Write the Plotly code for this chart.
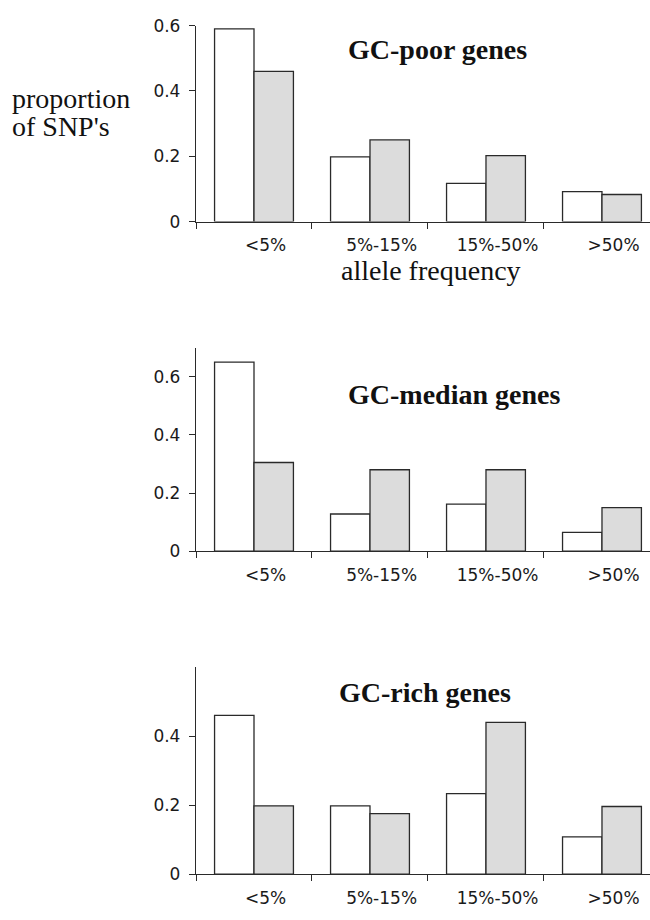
import plotly.graph_objects as go

categories = ["<5%", "5%-15%", "15%-50%", ">50%"]
panel_titles = ["GC-poor genes", "GC-median genes", "GC-rich genes"]
poor_white = [0.59, 0.198, 0.117, 0.092]
poor_grey = [0.46, 0.25, 0.202, 0.083]
median_white = [0.65, 0.128, 0.162, 0.065]
median_grey = [0.305, 0.28, 0.28, 0.15]
rich_white = [0.46, 0.198, 0.233, 0.108]
rich_grey = [0.198, 0.175, 0.44, 0.196]
y_ticks_top = [0, 0.2, 0.4, 0.6]
y_ticks_mid = [0, 0.2, 0.4, 0.6]
y_ticks_bot = [0, 0.2, 0.4]
y_tick_text_top = ["0", "0.2", "0.4", "0.6"]
y_tick_text_mid = ["0", "0.2", "0.4", "0.6"]
y_tick_text_bot = ["0", "0.2", "0.4"]

W, H = 650, 920
def px(x):
    return x / W
def py(y):
    return 1 - y / H

xpos = list(range(len(categories)))
panels = [
    (poor_white, poor_grey, [0, 0.6], y_ticks_top, y_tick_text_top, (216.3, 16.0)),
    (median_white, median_grey, [0, 0.7], y_ticks_mid, y_tick_text_mid, (553.3, 345.0)),
    (rich_white, rich_grey, [0, 0.6], y_ticks_bot, y_tick_text_bot, (883.3, 671.7)),
]

fig = go.Figure()
line_col = "#2a2a2a"
layout = {}
for i, (wv, gv, yr, yt, ytt, (ybot, ytop)) in enumerate(panels):
    sfx = "" if i == 0 else str(i + 1)
    xa, ya = "x" + sfx, "y" + sfx
    fig.add_trace(go.Bar(x=xpos, y=wv, xaxis=xa, yaxis=ya,
                         marker=dict(color="white", line=dict(color=line_col, width=1.3)),
                         showlegend=False, hoverinfo="skip"))
    fig.add_trace(go.Bar(x=xpos, y=gv, xaxis=xa, yaxis=ya,
                         marker=dict(color="#dcdcdc", line=dict(color=line_col, width=1.3)),
                         showlegend=False, hoverinfo="skip"))
    layout["xaxis" + sfx] = dict(
        domain=[px(196), 1], range=[-0.5, 3.414], anchor=ya,
        showline=True, linecolor=line_col, linewidth=1.3,
        showgrid=False, zeroline=False,
        tickmode="array", tickvals=[v + 0.1 for v in xpos], ticktext=categories,
        ticks="", ticklabelstandoff=8,
        tickfont=dict(family="DejaVu Sans", size=17, color="#1a1a1a"),
        minor=dict(tickmode="array", tickvals=[v - 0.5 for v in xpos],
                   ticks="outside", ticklen=6, tickcolor=line_col, tickwidth=1.3,
                   showgrid=False),
    )
    layout["yaxis" + sfx] = dict(
        domain=[py(ybot), py(ytop)], range=yr, anchor=xa,
        showline=True, linecolor=line_col, linewidth=1.3,
        showgrid=False, zeroline=False,
        tickmode="array", tickvals=yt, ticktext=ytt,
        ticks="outside", ticklen=6, tickcolor=line_col, tickwidth=1.3,
        ticklabelstandoff=5,
        tickfont=dict(family="DejaVu Sans", size=17, color="#1a1a1a"),
    )

serif = "Liberation Serif"
annotations = [
    dict(text="<b>" + panel_titles[0] + "</b>", x=px(346), y=py(40), xanchor="left", yanchor="middle",
         font=dict(family=serif, size=28, color="#111")),
    dict(text="<b>" + panel_titles[1] + "</b>", x=px(346), y=py(393), xanchor="left", yanchor="middle",
         font=dict(family=serif, size=28, color="#111")),
    dict(text="<b>" + panel_titles[2] + "</b>", x=px(337), y=py(698), xanchor="left", yanchor="middle",
         font=dict(family=serif, size=28, color="#111")),
    dict(text="proportion", x=px(10), y=py(90), xanchor="left", yanchor="middle",
         font=dict(family=serif, size=28, color="#111")),
    dict(text="of SNP's", x=px(10), y=py(119), xanchor="left", yanchor="middle",
         font=dict(family=serif, size=28, color="#111")),
    dict(text="allele frequency", x=px(431), y=py(266), xanchor="center", yanchor="middle",
         font=dict(family=serif, size=28, color="#111")),
]
for a in annotations:
    a.update(xref="paper", yref="paper", showarrow=False)

fig.update_layout(
    width=W, height=H, margin=dict(l=0, r=0, t=0, b=0),
    paper_bgcolor="white", plot_bgcolor="white",
    barmode="group", bargap=0.32, bargroupgap=0,
    annotations=annotations, **layout,
)
fig.write_html("out.html", config={"displayModeBar": False},
               post_script="document.body.style.margin='0';")
